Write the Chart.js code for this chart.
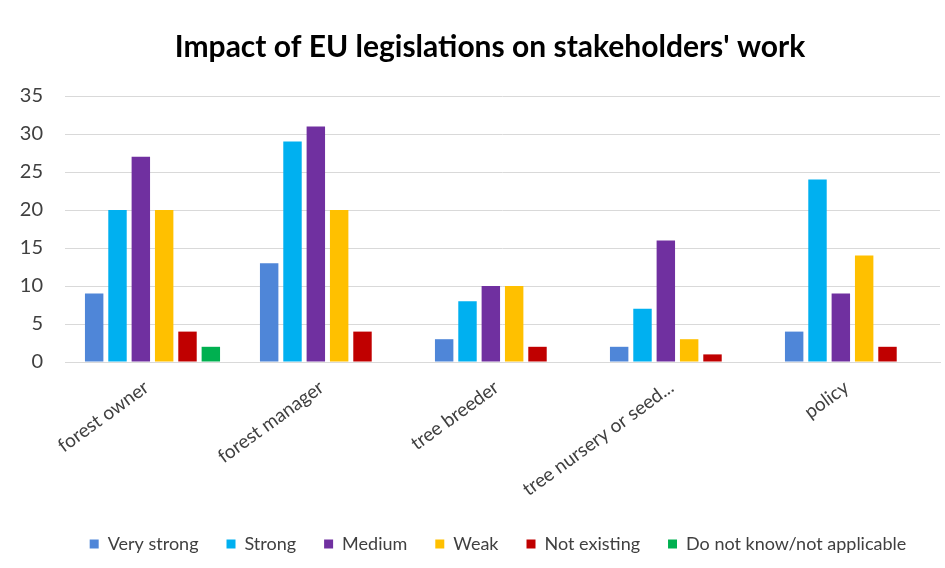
<!DOCTYPE html>
<html>
<head>
<meta charset="utf-8">
<script src="https://cdn.jsdelivr.net/npm/chart.js@4"></script>
<style>
  html, body { margin: 0; padding: 0; background: #fff; }
  #wrap { width: 945px; height: 568px; }
</style>
</head>
<body>
<div id="wrap"><canvas id="graph"></canvas></div>
<script>
// catégories (axe x)
const categories = ['forest owner', 'forest manager', 'tree breeder', 'tree nursery or seed...', 'policy'];

// séries, une valeur par catégorie
const veryStrong = [9, 13, 3, 2, 4];
const strong = [20, 29, 8, 7, 24];
const medium = [27, 31, 10, 16, 9];
const weak = [20, 20, 10, 3, 14];
const notExisting = [4, 4, 2, 1, 2];
const doNotKnow = [2, 0, 0, 0, 0];

// graduations de l'axe y
const yTicks = [0, 5, 10, 15, 20, 25, 30, 35];

const font = 'Lato, "Open Sans", sans-serif';

function serie(label, data, color) {
  return {
    label: label,
    data: data,
    backgroundColor: color,
    borderWidth: 0,
    categoryPercentage: 0.8,
    barPercentage: 0.79
  };
}

// décale un peu titre et légende vers la droite (comme dans l'original)
const decalage = {
  id: 'decalage',
  afterLayout(chart) {
    if (chart.titleBlock) { chart.titleBlock.left += 20; chart.titleBlock.right += 20; }
    if (chart.legend) { chart.legend.left += 28; chart.legend.right += 28; }
  }
};

new Chart(document.getElementById('graph').getContext('2d'), {
  type: 'bar',
  data: {
    labels: categories,
    datasets: [
      serie('Very strong', veryStrong, '#4f86d8'),
      serie('Strong', strong, '#00b0f0'),
      serie('Medium', medium, '#7030a0'),
      serie('Weak', weak, '#ffc000'),
      serie('Not existing', notExisting, '#c00000'),
      serie('Do not know/not applicable', doNotKnow, '#00b050')
    ]
  },
  plugins: [decalage],
  options: {
    responsive: true,
    maintainAspectRatio: false,
    animation: false,
    layout: { padding: { left: 0, right: 5, top: 0, bottom: 5 } },
    plugins: {
      title: {
        display: true,
        text: "Impact of EU legislations on stakeholders' work",
        color: '#000',
        font: { family: font, size: 30, weight: 'bold' },
        padding: { top: 29, bottom: 31 }
      },
      legend: {
        position: 'bottom',
        labels: {
          color: '#404040',
          font: { family: font, size: 18 },
          boxWidth: 9,
          boxHeight: 9,
          padding: 28
        }
      },
      tooltip: { enabled: false }
    },
    scales: {
      x: {
        grid: { display: false, drawTicks: false },
        border: { color: '#d9d9d9' },
        ticks: {
          color: '#404040',
          font: { family: font, size: 19 },
          minRotation: 36,
          maxRotation: 36,
          padding: 14,
          labelOffset: -6
        },
        afterFit: function(scale) { scale.height = 145; }
      },
      y: {
        min: 0,
        max: 35,
        grid: { color: '#d9d9d9', drawTicks: false },
        border: { display: false },
        afterBuildTicks: function(scale) {
          scale.ticks = yTicks.map(v => ({ value: v }));
        },
        ticks: {
          color: '#404040',
          font: { family: font, size: 20 },
          padding: 22
        },
        afterFit: function(scale) { scale.width = 65; }
      }
    }
  }
});
</script>
</body>
</html>
